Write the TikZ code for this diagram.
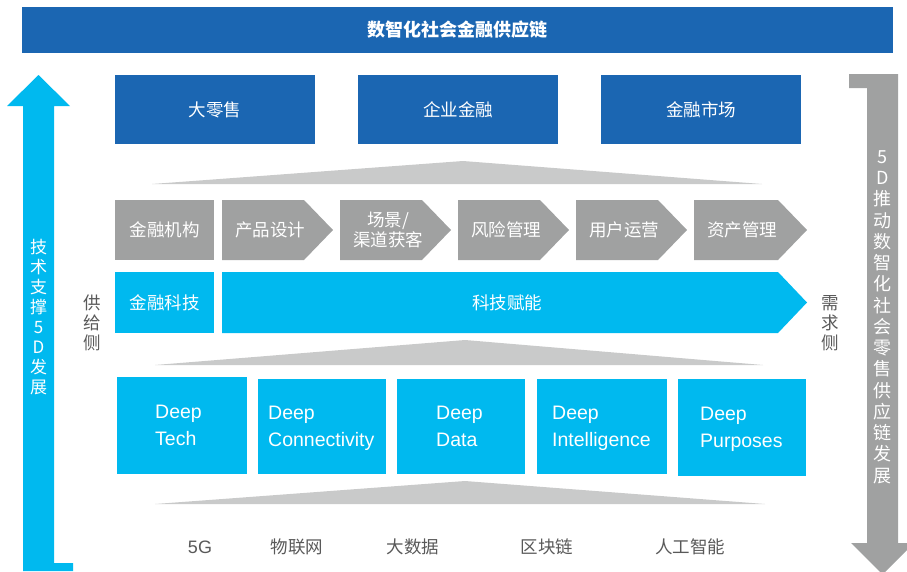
\documentclass[tikz,border=0pt]{standalone}
\usepackage{fontspec}
\setmainfont{Liberation Sans}
\newfontfamily\cjk{Noto Sans CJK SC}
\usepackage{tikz}
\usetikzlibrary{positioning}
\definecolor{chainblue}{HTML}{1B66B2}
\definecolor{techcyan}{HTML}{00B9EF}
\definecolor{procgray}{HTML}{A0A1A1}
\definecolor{wedgegray}{HTML}{C9CACA}
\definecolor{labelgray}{HTML}{595959}

\begin{document}
\begin{tikzpicture}[x=1pt, y=-1pt,
        bluebox/.style={rectangle, fill=chainblue, text=white, inner sep=0pt,
        minimum width=200pt, minimum height=69pt,
        font=\cjk\fontsize{17.5}{20}\selectfont},
        graybox/.style={rectangle, fill=procgray, text=white, inner sep=0pt,
        minimum width=99pt, minimum height=60pt,
        font=\cjk\fontsize{17.5}{20}\selectfont},
        cyanbox/.style={rectangle, fill=techcyan, text=white, inner sep=0pt,
        minimum width=128pt, minimum height=95pt},
        steptext/.style={text=white, inner sep=0pt, align=center,
        font=\cjk\fontsize{17.5}{20}\selectfont},
        deeptext/.style={text=white, inner sep=0pt, align=left, anchor=base west,
        font=\fontsize{19.5}{27}\selectfont},
        sidetext/.style={text=labelgray, inner sep=0pt, align=center,
        font=\cjk\fontsize{17.5}{20}\selectfont},
        basetext/.style={text=labelgray, inner sep=0pt,
        font=\cjk\fontsize{17.5}{20}\selectfont},
      ]
      \useasboundingbox (0,0) rectangle (907,571);
      \clip (0,0) rectangle (907,571);

      % =================== TITLE AND MARKETS ===================
      \node[bluebox, minimum width=871pt, minimum height=46pt,
      font=\cjk\bfseries\fontsize{18}{20}\selectfont] (title) at (457.5,30)
      {数智化社会金融供应链};

      \node[bluebox] (retail) at (215,109.5) {大零售};
      \node[bluebox] (corporate) at (458,109.5) {企业金融};
      \node[bluebox] (market) at (701,109.5) {金融市场};

      \fill[wedgegray] (152,184) -- (463,161) -- (762,184) -- cycle;

      % =================== PROCESS ROW ===================
      \node[graybox] (institution) at (164.5,230) {金融机构};

      \fill[procgray] (222,200) -- ++(82,0) -- ++(29,30) -- ++(-29,30) -- ++(-82,0) -- cycle;
      \fill[procgray] (340,200) -- ++(82,0) -- ++(29,30) -- ++(-29,30) -- ++(-82,0) -- cycle;
      \fill[procgray] (458,200) -- ++(82,0) -- ++(29,30) -- ++(-29,30) -- ++(-82,0) -- cycle;
      \fill[procgray] (576,200) -- ++(82,0) -- ++(29,30) -- ++(-29,30) -- ++(-82,0) -- cycle;
      \fill[procgray] (694,200) -- ++(84,0) -- ++(29,30) -- ++(-29,30) -- ++(-84,0) -- cycle;

      \node[steptext] (design) at (270,230) {产品设计};
      \node[steptext] (channel) at (388,230) {场景/\\渠道获客};
      \node[steptext] (risk) at (506,230) {风险管理};
      \node[steptext] (users) at (624,230) {用户运营};
      \node[steptext] (assets) at (742,230) {资产管理};

      % =================== FINTECH ROW ===================
      \node[graybox, fill=techcyan, minimum height=61pt] (fintech) at (164.5,302.5) {金融科技};
      \fill[techcyan] (222,272) -- (778,272) -- (807,302.5) -- (778,333) -- (222,333) -- cycle;
      \node[steptext] (enable) at (507,302.5) {科技赋能};

      \node[sidetext] (supply) at (92,323) {供\\给\\侧};
      \node[sidetext] (demand) at (830,323) {需\\求\\侧};

      \fill[wedgegray] (155,365) -- (465,340) -- (763,365) -- cycle;

      % =================== DEEP BOXES ===================
      \node[cyanbox, minimum width=130pt, minimum height=97pt] (dtech) at (182,425.5) {};
      \node[cyanbox] (dconn) at (322,426.5) {};
      \node[cyanbox] (ddata) at (461,426.5) {};
      \node[cyanbox, minimum width=130pt] (dintel) at (602,426.5) {};
      \node[cyanbox, minimum height=97pt] (dpurp) at (742,427.5) {};

      % base anchor sits on the second line
      \node[deeptext] (dtechtxt) at (155,445) {Deep\\Tech};
      \node[deeptext] (dconntxt) at (268,446) {Deep\\Connectivity};
      \node[deeptext] (ddatatxt) at (436,446) {Deep\\Data};
      \node[deeptext] (dinteltxt) at (552,446) {Deep\\Intelligence};
      \node[deeptext] (dpurptxt) at (700,447) {Deep\\Purposes};

      \fill[wedgegray] (155,504) -- (465,481) -- (765,504) -- cycle;

      % =================== BASE TECHNOLOGIES ===================
      \node[basetext, font=\fontsize{18}{20}\selectfont] (fiveg) at (200,547) {5G};
      \node[basetext] (iot) at (297,547) {物联网};
      \node[basetext] (bigdata) at (413,547) {大数据};
      \node[basetext] (chain) at (547,547) {区块链};
      \node[basetext] (ai) at (690,547) {人工智能};

      % =================== SIDE ARROWS ===================
      \fill[techcyan] (23,571) -- (23,106) -- (7,106) -- (38.5,75) -- (70,106)
      -- (54,106) -- (54,563) -- (73,563) -- (73,571) -- cycle;
      \node[sidetext, text=white, font=\cjk\fontsize{17}{20}\selectfont] (techup)
      at (38.5,317) {技\\术\\支\\撑\\5\\D\\发\\展};

      \fill[procgray] (849,74) -- (898,74) -- (898,543) -- (914,543) -- (882.5,574.5)
      -- (851,543) -- (867,543) -- (867,88) -- (849,88) -- cycle;
      \node[sidetext, text=white, font=\cjk\fontsize{18}{21.25}\selectfont] (retaildown)
      at (882.5,317) {5\\D\\推\\动\\数\\智\\化\\社\\会\\零\\售\\供\\应\\链\\发\\展};

    \end{tikzpicture}
\end{document}
